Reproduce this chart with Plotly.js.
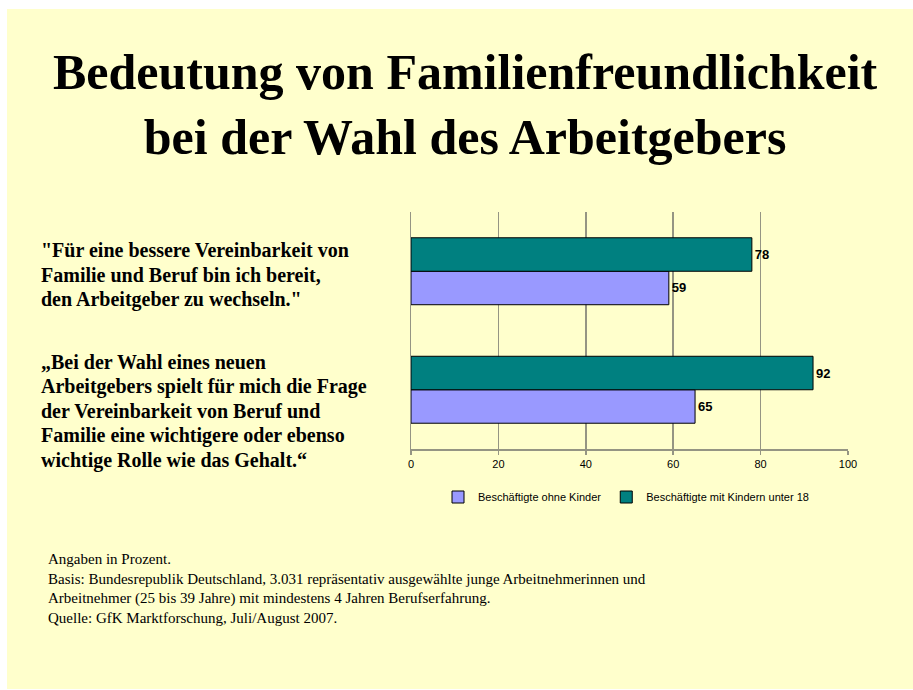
<!DOCTYPE html>
<html>
<head>
<meta charset="utf-8">
<script src="https://cdn.plot.ly/plotly-3.0.1.min.js"></script>
<style>
html,body{margin:0;padding:0;background:#fff;}
#chart{width:913px;height:690px;}
</style>
</head>
<body>
<div id="chart"></div>
<script>
// ---- data ----
var categories = ["Frage 1", "Frage 2"];            // Frage 1 = top, Frage 2 = bottom
var seriesNames = ["Beschäftigte ohne Kinder", "Beschäftigte mit Kindern unter 18"];
var ohneKinder = [59, 65];
var mitKindern = [78, 92];
var xTicks = [0, 20, 40, 60, 80, 100];

var titleText = "Bedeutung von Familienfreundlichkeit<br>bei der Wahl des Arbeitgebers";
var statement1Lines = [
  "\"Für eine bessere Vereinbarkeit von",
  "Familie und Beruf bin ich bereit,",
  "den Arbeitgeber zu wechseln.\""
];
var statement2Lines = [
  "„Bei der Wahl eines neuen",
  "Arbeitgebers spielt für mich die Frage",
  "der Vereinbarkeit von Beruf und",
  "Familie eine wichtigere oder ebenso",
  "wichtige Rolle wie das Gehalt.“"
];
var footnote = "Angaben in Prozent.<br>Basis: Bundesrepublik Deutschland, 3.031 repräsentativ ausgewählte junge Arbeitnehmerinnen und<br>Arbeitnehmer (25 bis 39 Jahre) mit mindestens 4 Jahren Berufserfahrung.<br>Quelle: GfK Marktforschung, Juli/August 2007.";

// ---- layout helpers (plot area: x 411..848, y 212..449 px) ----
var W = 913, H = 690, L = 411, R = 848, T = 212, B = 449;
function px(x){ return (x - L) / (R - L); }
function py(y){ return (B - y) / (B - T); }

var grid = "#959583";
var sans = "Liberation Sans, Arial, sans-serif";
var serif = "Liberation Serif, Times New Roman, serif";

var labelFont = {family: sans, size: 13, color: "#000", weight: "bold"};
var traces = [
  {
    type: "bar", orientation: "h", name: seriesNames[0],
    y: categories, x: ohneKinder,
    marker: {color: "#9999ff", line: {color: "#000", width: 1}},
    text: ohneKinder.map(String), textposition: "outside", cliponaxis: false,
    textfont: labelFont, hoverinfo: "x+name"
  },
  {
    type: "bar", orientation: "h", name: seriesNames[1],
    y: categories, x: mitKindern,
    marker: {color: "#008080", line: {color: "#000", width: 1}},
    text: mitKindern.map(String), textposition: "outside", cliponaxis: false,
    textfont: labelFont, hoverinfo: "x+name"
  }
];

var annotations = [
  {xref: "paper", yref: "paper", x: px(465), y: py(42), xanchor: "center", yanchor: "top",
   text: titleText, showarrow: false, align: "center",
   font: {family: serif, size: 50, color: "#000", weight: "bold"}},
  {xref: "paper", yref: "paper", x: px(46), y: py(549), xanchor: "left", yanchor: "top",
   text: footnote, showarrow: false, align: "left",
   font: {family: serif, size: 15, color: "#000"}}
];
var stFont = {family: serif, size: 20, color: "#000", weight: "bold"};
function addLines(lines, firstBaseline){
  lines.forEach(function(t, i){
    var base = firstBaseline + i * 24.5;
    annotations.push({xref: "paper", yref: "paper", x: px(39), y: py(base - 6.8),
      xanchor: "left", yanchor: "middle", text: t, showarrow: false, align: "left",
      font: stFont});
  });
}
addLines(statement1Lines, 257);
addLines(statement2Lines, 369);

var layout = {
  width: W, height: H,
  margin: {l: L, r: W - R, t: T, b: H - B, pad: 0},
  paper_bgcolor: "#ffffff",
  plot_bgcolor: "rgba(0,0,0,0)",
  barmode: "group",
  bargap: 0.435,
  bargroupgap: 0,
  showlegend: true,
  legend: {
    orientation: "h", x: px(626), xanchor: "center", y: py(497), yanchor: "middle",
    font: {family: sans, size: 11, color: "#000"},
    itemwidth: 30, traceorder: "normal", bgcolor: "rgba(0,0,0,0)"
  },
  xaxis: {
    range: [0, 100], tickvals: xTicks, ticktext: xTicks.map(String),
    showgrid: true, gridcolor: grid, gridwidth: 1.5,
    zeroline: false, showline: true, linecolor: grid, linewidth: 1.5,
    ticks: "outside", ticklen: 4, tickcolor: grid, tickwidth: 1.5,
    tickfont: {family: sans, size: 11, color: "#000"},
    fixedrange: true
  },
  yaxis: {
    type: "category", categoryorder: "array", categoryarray: ["Frage 2", "Frage 1"],
    showticklabels: false, showgrid: false, zeroline: false,
    showline: true, linecolor: grid, linewidth: 1.5, ticks: "",
    fixedrange: true
  },
  shapes: [
    {type: "rect", xref: "paper", yref: "paper", layer: "below",
     x0: px(7), x1: px(913), y0: py(689), y1: py(9),
     fillcolor: "#ffffcc", line: {width: 0}}
  ],
  annotations: annotations
};

Plotly.newPlot("chart", traces, layout, {displayModeBar: false, staticPlot: true});
</script>
</body>
</html>
